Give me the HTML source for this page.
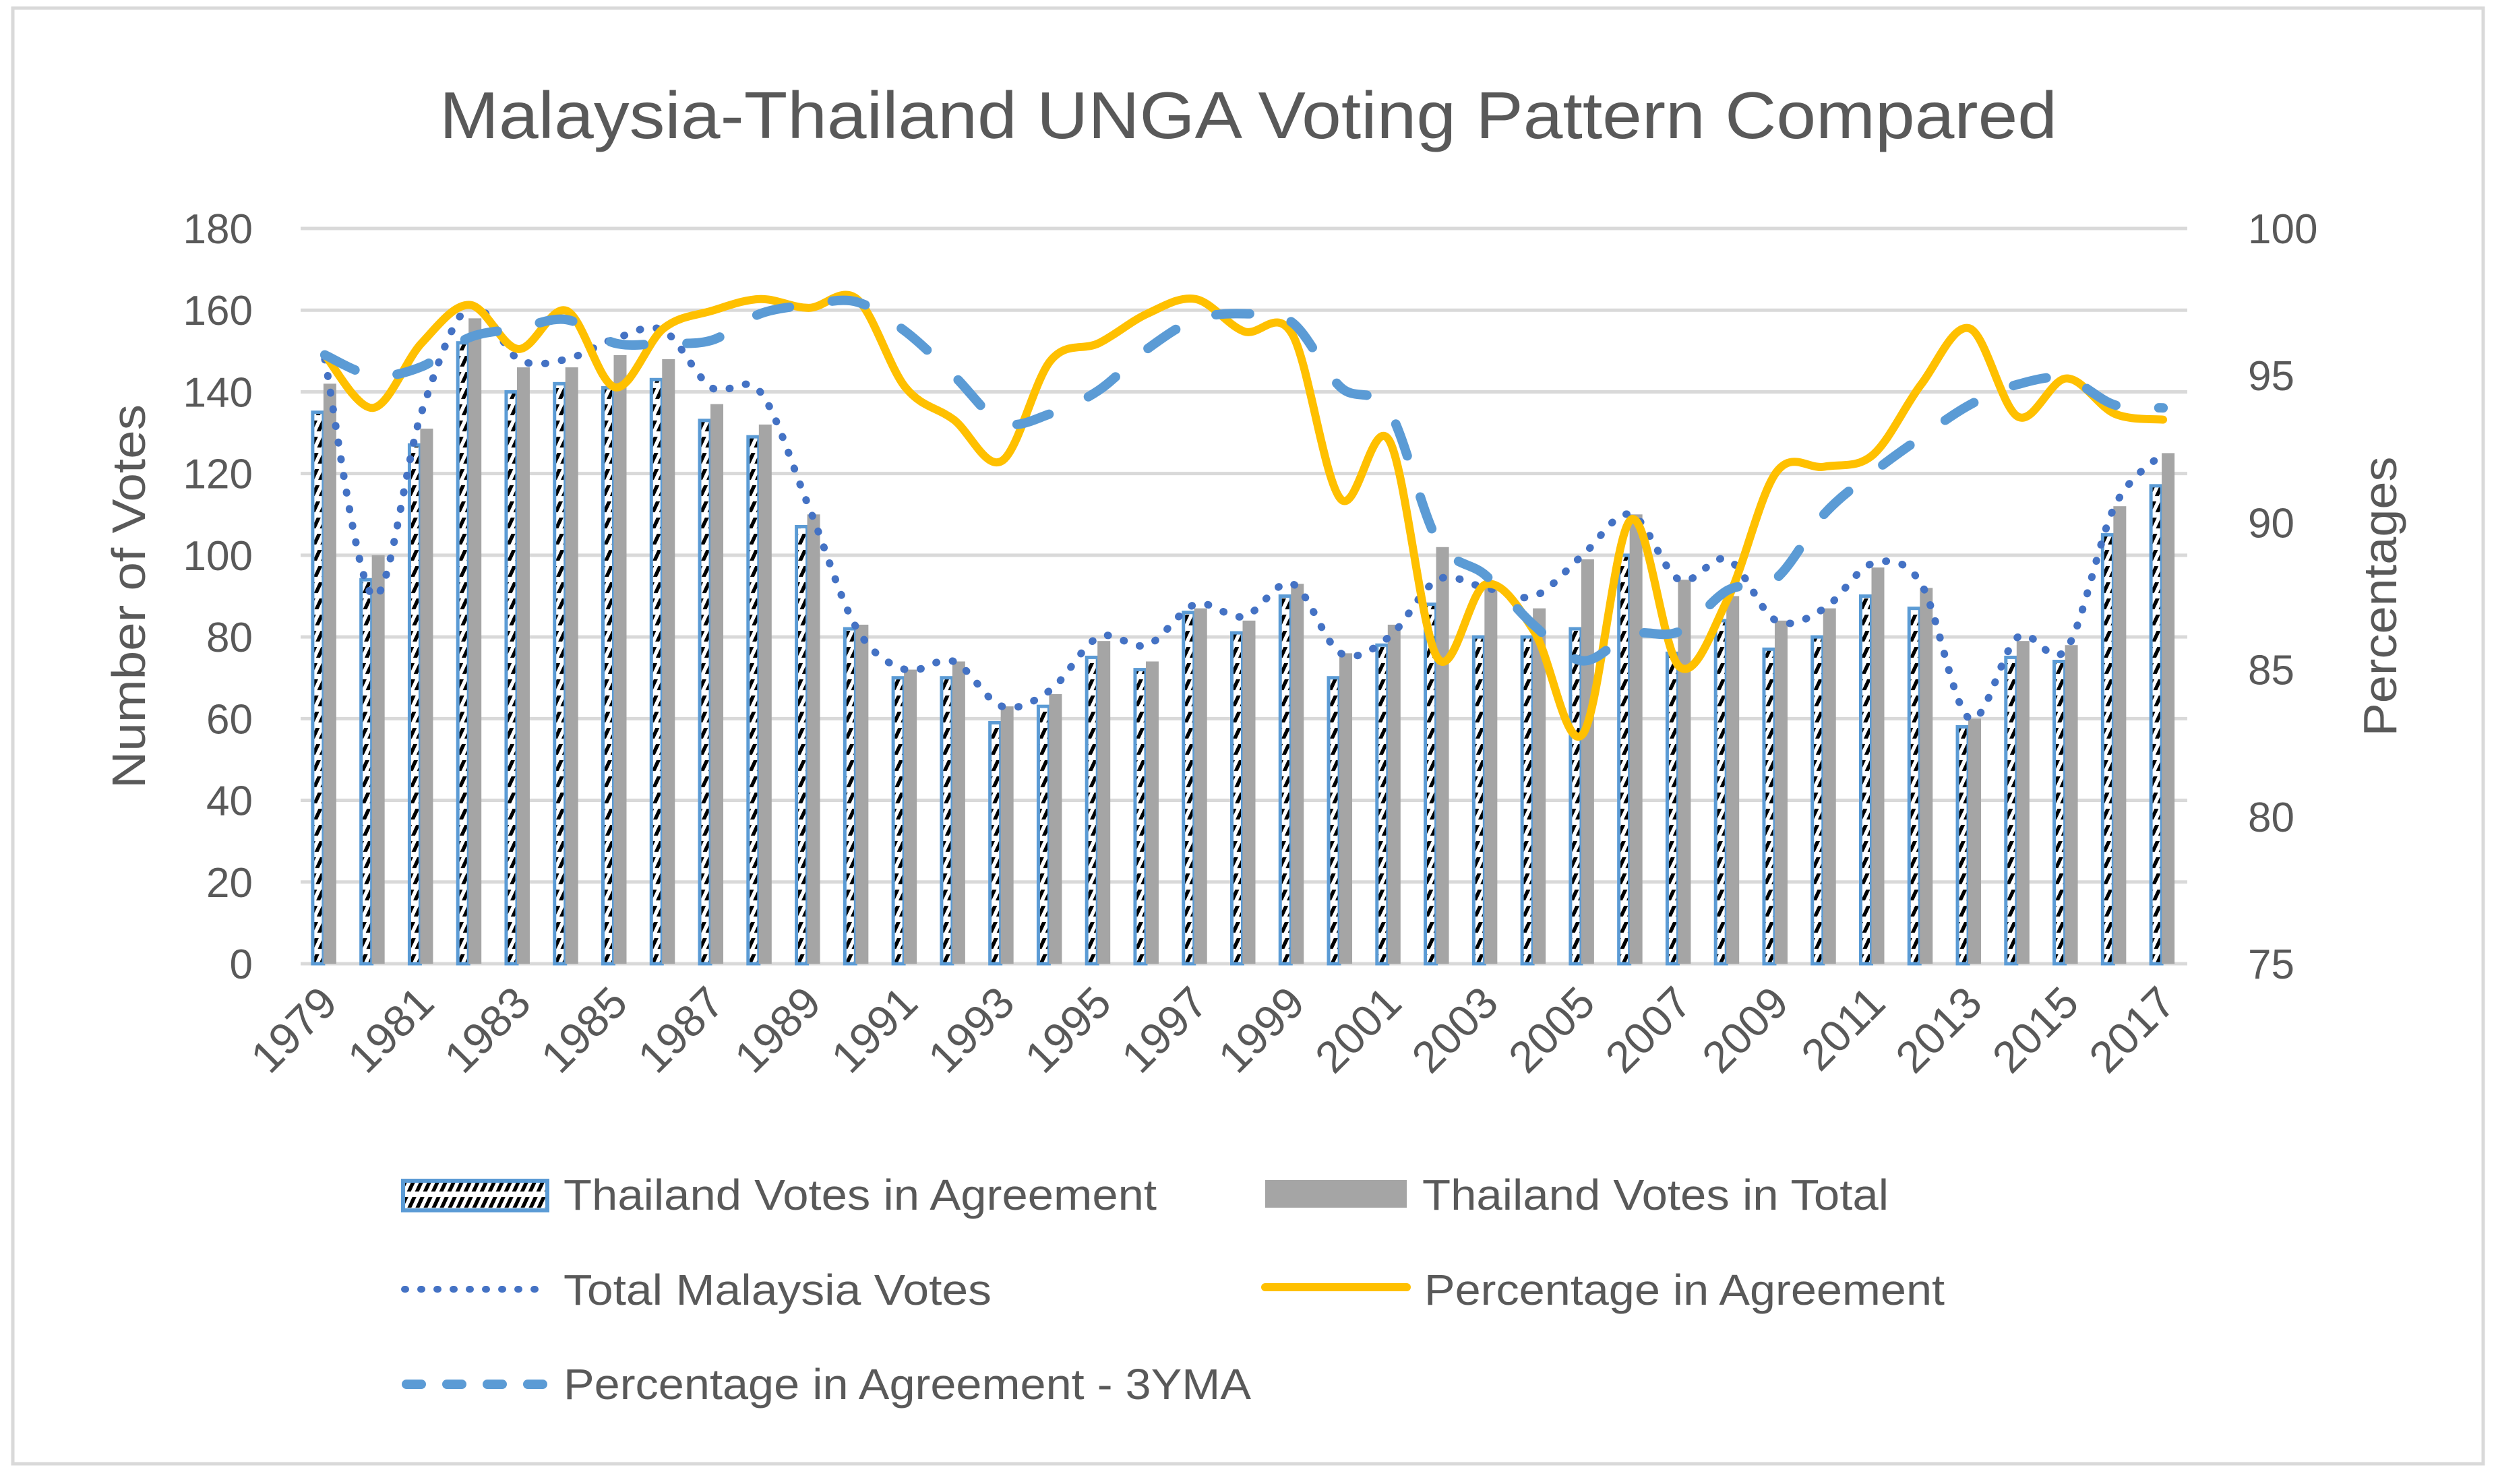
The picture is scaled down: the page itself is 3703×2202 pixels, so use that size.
<!DOCTYPE html>
<html><head><meta charset="utf-8"><style>
html,body{margin:0;padding:0;background:#fff;}
svg{display:block;font-family:"Liberation Sans",sans-serif;}
</style></head><body>
<svg id="chart" width="3703" height="2202" viewBox="0 0 3703 2202" xmlns="http://www.w3.org/2000/svg">
<defs>
<pattern id="hatch" patternUnits="userSpaceOnUse" width="12" height="24" patternTransform="skewX(-25)">
<rect width="12" height="24" fill="#fff"/>
<rect x="0" y="0" width="6" height="16" fill="#000"/>
</pattern>
</defs>
<rect x="19" y="12" width="3665" height="2160" fill="#fff" stroke="#d9d9d9" stroke-width="5"/>
<text x="1852" y="205" text-anchor="middle" font-size="98" fill="#595959" textLength="2400" lengthAdjust="spacingAndGlyphs">Malaysia-Thailand UNGA Voting Pattern Compared</text>
<g id="grid"></g>
<g id="bars"></g>
<g id="lines"></g>
<g id="axes"></g>
<text transform="translate(215,885) rotate(-90)" text-anchor="middle" font-size="70" fill="#595959" textLength="570" lengthAdjust="spacingAndGlyphs">Number of Votes</text>
<text transform="translate(3555,885) rotate(-90)" text-anchor="middle" font-size="70" fill="#595959" textLength="415" lengthAdjust="spacingAndGlyphs">Percentages</text>
<g>
<g>
<rect x="598" y="1752" width="214" height="44" fill="url(#hatch)" stroke="#5b9bd5" stroke-width="6"/>
<text x="836" y="1795" font-size="64" fill="#595959" textLength="880" lengthAdjust="spacingAndGlyphs">Thailand Votes in Agreement</text></g>
<g>
<rect x="1877" y="1751" width="210" height="41" fill="#a5a5a5"/>
<text x="2110" y="1795" font-size="64" fill="#595959" textLength="692" lengthAdjust="spacingAndGlyphs">Thailand Votes in Total</text></g>
<g>
<line x1="600" y1="1913" x2="812" y2="1913" stroke="#4472c4" stroke-width="10" stroke-dasharray="2,22" stroke-linecap="round"/>
<text x="836" y="1936" font-size="64" fill="#595959" textLength="635" lengthAdjust="spacingAndGlyphs">Total Malaysia Votes</text></g>
<g>
<line x1="1877" y1="1910" x2="2087" y2="1910" stroke="#ffc000" stroke-width="12" stroke-linecap="round"/>
<text x="2113" y="1936" font-size="64" fill="#595959" textLength="772" lengthAdjust="spacingAndGlyphs">Percentage in Agreement</text></g>
<g>
<line x1="603" y1="2054" x2="812" y2="2054" stroke="#5b9bd5" stroke-width="14" stroke-dasharray="22,38" stroke-linecap="round"/>
<text x="836" y="2076" font-size="64" fill="#595959" textLength="1020" lengthAdjust="spacingAndGlyphs">Percentage in Agreement - 3YMA</text></g>
</g>
</svg>
<script>
const years = [1979,1980,1981,1982,1983,1984,1985,1986,1987,1988,1989,1990,1991,1992,1993,1994,1995,1996,1997,1998,1999,2000,2001,2002,2003,2004,2005,2006,2007,2008,2009,2010,2011,2012,2013,2014,2015,2016,2017];
const agreeVotes = [135,94,127,152,140,142,141,143,133,129,107,82,70,70,59,63,75,72,86,81,90,70,78,88,80,80,82,100,76,84,77,80,90,87,58,75,74,105,117];
const totalVotes = [142,100,131,158,146,146,149,148,137,132,110,83,72,74,63,66,79,74,87,84,93,76,83,102,93,87,99,110,94,90,84,87,97,92,60,79,78,112,125];
const malaysiaVotes = [148,90,135,161,148,148,153,155,141,140,112,82,72,74,63,67,80,78,88,85,93,76,80,94,92,90,100,110,94,99,84,87,98,93,60,80,77,112,125];
const pctAgree = [95.7,93.9,96.1,97.4,95.9,97.2,94.6,96.6,97.2,97.6,97.3,97.6,94.6,93.5,92.1,95.5,96.1,97.1,97.6,96.5,96.4,90.8,92.8,85.4,87.9,86.3,82.8,90.1,85.1,87.4,91.7,91.9,92.3,94.7,96.6,93.6,94.9,93.7,93.5];
const pct3yma = [95.7,95.0,95.3,96.3,96.6,96.9,96.1,96.1,96.2,97.1,97.4,97.5,96.5,95.0,93.4,93.7,94.5,95.9,96.9,97.1,96.8,94.6,93.8,89.4,88.2,86.5,85.3,86.2,86.3,87.7,88.1,90.3,91.7,92.9,94.0,94.7,94.9,94.0,93.9];
const leftTicks = [0,20,40,60,80,100,120,140,160,180];
const rightTicks = [75,80,85,90,95,100];

const NS='http://www.w3.org/2000/svg';
const X0=446,X1=3245,Y0=1430,Y1=339;
const slot=(X1-X0)/years.length;
const xc=i=>X0+slot*(i+0.5);
const yL=v=>Y0-(v-0)/(180-0)*(Y0-Y1);
const yR=v=>Y0-(v-75)/(100-75)*(Y0-Y1);
function mk(tag,attrs,parent){const e=document.createElementNS(NS,tag);for(const k in attrs)e.setAttribute(k,attrs[k]);parent.appendChild(e);return e;}
const grid=document.getElementById('grid'),bars=document.getElementById('bars'),lines=document.getElementById('lines'),axes=document.getElementById('axes');
leftTicks.forEach(t=>{
  const g=mk('line',{x1:X0,x2:X1,y1:yL(t),y2:yL(t),stroke:'#d9d9d9','stroke-width':5},grid);
  
  
  const tx=mk('text',{x:375,y:yL(t)+22,'text-anchor':'end','font-size':62,fill:'#595959'},axes);
  tx.textContent=t;
  
  
});
rightTicks.forEach(t=>{
  const tx=mk('text',{x:3335,y:yR(t)+22,'text-anchor':'start','font-size':62,fill:'#595959'},axes);
  tx.textContent=t;
  
  
});
years.forEach((yr,i)=>{
  const c=xc(i);
  const b1=mk('rect',{x:c-18,y:yL(agreeVotes[i]),width:16,height:Y0-yL(agreeVotes[i]),fill:'url(#hatch)',stroke:'#5b9bd5','stroke-width':5},bars);
  
  
  const b2=mk('rect',{x:c-2,y:yL(totalVotes[i]),width:19,height:Y0-yL(totalVotes[i]),fill:'#a5a5a5'},bars);
  
  
  if(i%2===0){
    const tx=mk('text',{transform:`translate(${c+22},${Y0+62}) rotate(-45)`,'text-anchor':'end','font-size':66,fill:'#595959'},axes);
    tx.textContent=yr;
    
    
  }
});
function smooth(pts){
  let d=`M${pts[0][0]},${pts[0][1]}`;
  for(let i=0;i<pts.length-1;i++){
    const p0=pts[Math.max(i-1,0)],p1=pts[i],p2=pts[i+1],p3=pts[Math.min(i+2,pts.length-1)];
    const t=1/6;
    d+=` C${p1[0]+(p2[0]-p0[0])*t},${p1[1]+(p2[1]-p0[1])*t} ${p2[0]-(p3[0]-p1[0])*t},${p2[1]-(p3[1]-p1[1])*t} ${p2[0]},${p2[1]}`;
  }
  return d;
}
const lm=mk('path',{d:smooth(malaysiaVotes.map((v,i)=>[xc(i),yL(v)])),fill:'none',stroke:'#4472c4','stroke-width':11,'stroke-dasharray':'1,24','stroke-linecap':'round'},lines);


const lp=mk('path',{d:smooth(pctAgree.map((v,i)=>[xc(i),yR(v)])),fill:'none',stroke:'#ffc000','stroke-width':12,'stroke-linecap':'round'},lines);


const l3=mk('path',{d:smooth(pct3yma.map((v,i)=>[xc(i),yR(v)])),fill:'none',stroke:'#5b9bd5','stroke-width':14,'stroke-dasharray':'50,64','stroke-linecap':'round'},lines);


</script>
</body></html>
